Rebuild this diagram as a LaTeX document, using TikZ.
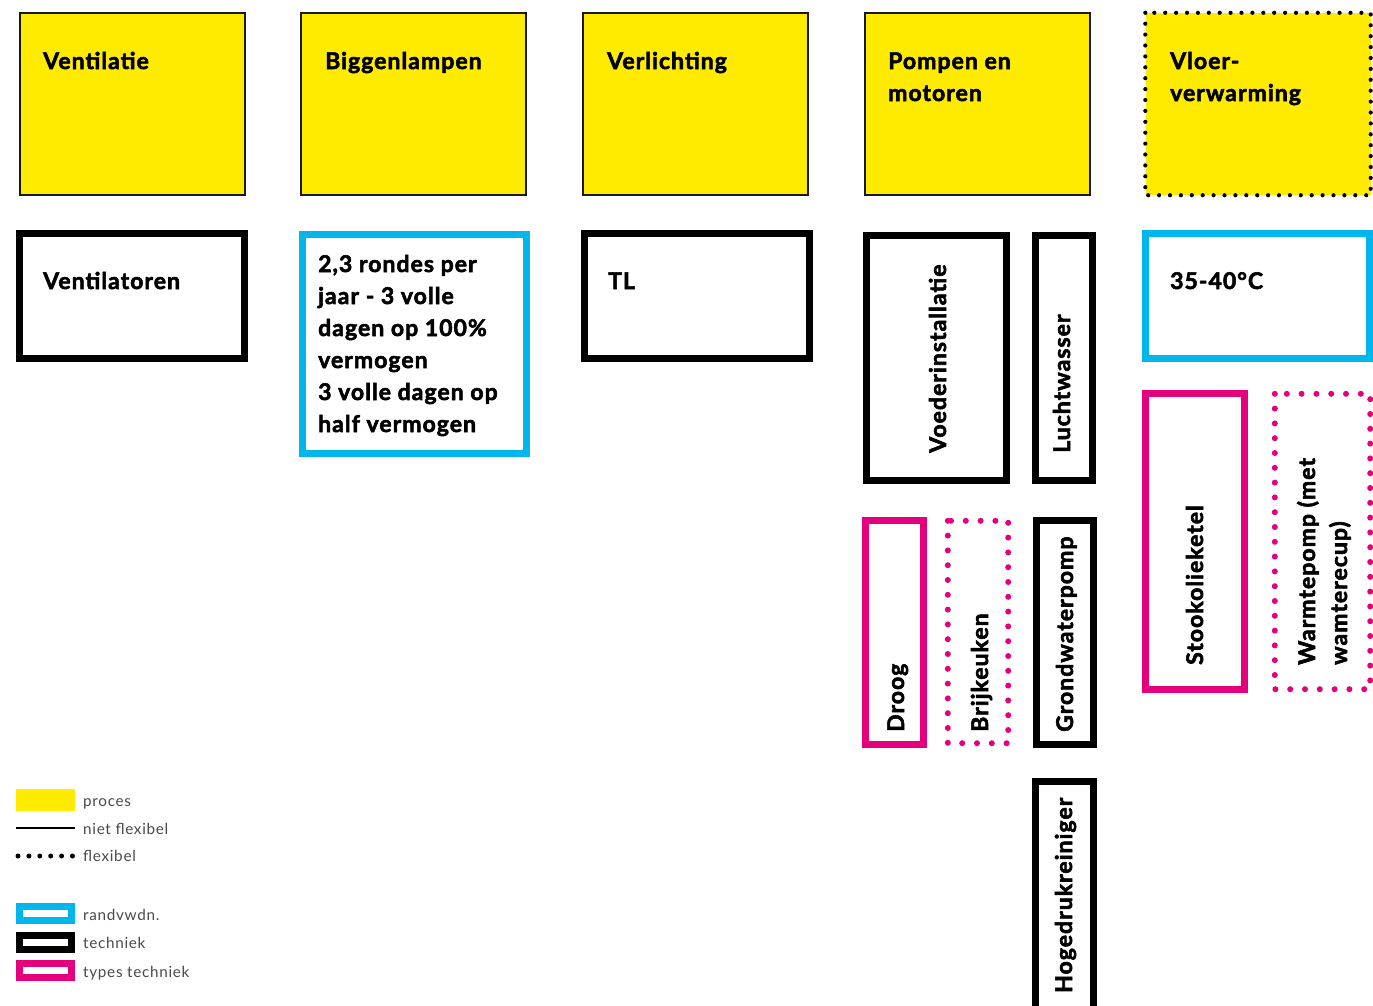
\documentclass[tikz,border=0pt]{standalone}
\usepackage{fontspec}
\setmainfont{Lato}[BoldFeatures={FakeBold=2.4, LetterSpace=4.5}]
\definecolor{procyellow}{HTML}{FFEB00}
\definecolor{randblue}{HTML}{00B6EA}
\definecolor{typepink}{HTML}{E4007D}
\definecolor{leggray}{HTML}{4A4A4A}
\newcommand{\mlines}[1]{\parbox[t]{300pt}{\raggedright #1}}
\tikzset{
  procbox/.style={draw=black!90, fill=procyellow, line width=2pt, inner sep=0pt},
  procflex/.style={fill=procyellow, inner sep=0pt},
  dotblack/.style={draw=black, line width=4.2pt, line cap=round, dash pattern=on 0pt off 10.9pt},
  techbox/.style={draw=black, line width=7pt, inner sep=0pt, fill=white},
  randbox/.style={draw=randblue, line width=7pt, inner sep=0pt, fill=white},
  typebox/.style={draw=typepink, line width=7pt, inner sep=0pt, fill=white},
  typeflex/.style={draw=typepink, line width=6pt, line cap=round, dash pattern=on 0pt off 14.8pt, inner sep=0pt},
  lbl/.style={font=\fontsize{23}{32}\selectfont\bfseries, text=black, inner sep=0pt, anchor=base west},
  vlbl/.style={lbl, rotate=90},
  legtxt/.style={font=\fontsize{15.3}{18}\selectfont\addfontfeatures{LetterSpace=4.5}, text=leggray, inner sep=0pt, anchor=base west},
}
\begin{document}
\begin{tikzpicture}[x=1pt, y=-1pt]
\useasboundingbox (0,0) rectangle (1373,1005);
\clip (0,0) rectangle (1373,1005);
\fill[white] (0,0) rectangle (1373,1005);

% process row
\node[procbox, minimum width=225pt, minimum height=182pt] (p1) at (132,104) {};
\node[procbox, minimum width=225pt, minimum height=182pt] (p2) at (413.5,104) {};
\node[procbox, minimum width=225pt, minimum height=182pt] (p3) at (695.5,104) {};
\node[procbox, minimum width=225pt, minimum height=182pt] (p4) at (977,104) {};
\node[procflex, minimum width=225pt, minimum height=182pt] (p5) at (1258,104) {};
\draw[dotblack] (p5.north west) rectangle (p5.south east);

\node[lbl] (t1) at (43,69) {Ventilatie};
\node[lbl] (t2) at (325,69) {Biggenlampen};
\node[lbl] (t3) at (607,69) {Verlichting};
\node[lbl] (t4) at (888,69) {\mlines{Pompen en\\motoren}};
\node[lbl] (t5) at (1170,69) {\mlines{Vloer-\\verwarming}};

% second row
\node[techbox, minimum width=225pt, minimum height=125pt] (b1) at (132,296) {};
\node[lbl] (u1) at (43,289) {Ventilatoren};

\node[randbox, minimum width=224pt, minimum height=219pt] (b2) at (414.5,344) {};
\node[lbl] (u2) at (318,272) {\mlines{2,3 rondes per\\jaar - 3 volle\\dagen op 100\%\\vermogen\\3 volle dagen op\\half vermogen}};

\node[techbox, minimum width=225pt, minimum height=125pt] (b3) at (697,296) {};
\node[lbl] (u3) at (608,289) {TL};

\node[techbox, minimum width=140pt, minimum height=245pt] (b4) at (936.5,358) {};
\node[vlbl] (u4) at (946,453) {Voederinstallatie};

\node[techbox, minimum width=57pt, minimum height=245pt] (b5) at (1064,358) {};
\node[vlbl] (u5) at (1070,453) {Luchtwasser};

\node[randbox, minimum width=224pt, minimum height=125pt] (b6) at (1257.5,296) {};
\node[lbl] (u6) at (1170,289) {35-40°C};

% types
\node[typebox, minimum width=99pt, minimum height=296pt] (c1) at (1195,541.5) {};
\node[vlbl] (v1) at (1203,665) {Stookolieketel};

\node[inner sep=0pt, minimum width=95pt, minimum height=295pt] (c2) at (1322.5,541.5) {};
\draw[typeflex] (c2.north west) rectangle (c2.south east);
\node[vlbl] (v2) at (1315,665) {Warmtepomp (met};
\node[vlbl] (v3) at (1347,665) {wamterecup)};

\node[typebox, minimum width=58pt, minimum height=224pt] (c3) at (894.5,632.5) {};
\node[vlbl] (v4) at (904,732) {Droog};

\node[inner sep=0pt, minimum width=60pt, minimum height=222pt] (c4) at (978,632) {};
\draw[typeflex] (c4.north west) rectangle (c4.south east);
\node[vlbl] (v5) at (988,732) {Brijkeuken};

\node[techbox, minimum width=57pt, minimum height=224pt] (c5) at (1065,632.5) {};
\node[vlbl] (v6) at (1073,732) {Grondwaterpomp};

\node[techbox, minimum width=58pt, minimum height=240pt] (c6) at (1064.5,901.5) {};
\node[vlbl] (v7) at (1072,993) {Hogedrukreiniger};

% legend
\node[fill=procyellow, inner sep=0pt, minimum width=59pt, minimum height=22pt] (l1) at (45.5,800) {};
\node[legtxt] (lt1) at (83,806) {proces};
\coordinate (l2a) at (16,828);
\coordinate (l2b) at (75,828);
\draw[line width=2pt] (l2a) -- (l2b);
\node[legtxt] (lt2) at (83,834) {niet flexibel};
\coordinate (l3a) at (18,856);
\coordinate (l3b) at (74.5,856);
\draw[line width=5pt, line cap=round, dash pattern=on 0pt off 10.9pt] (l3a) -- (l3b);
\node[legtxt] (lt3) at (83,861) {flexibel};
\node[randbox, minimum width=52pt, minimum height=14pt] (l4) at (45.5,913.5) {};
\node[legtxt] (lt4) at (83,920) {randvwdn.};
\node[techbox, minimum width=52pt, minimum height=14pt] (l5) at (45.5,942.5) {};
\node[legtxt] (lt5) at (83,948) {techniek};
\node[typebox, minimum width=52pt, minimum height=14pt] (l6) at (45.5,970.5) {};
\node[legtxt] (lt6) at (83,977) {types techniek};
\end{tikzpicture}
\end{document}
